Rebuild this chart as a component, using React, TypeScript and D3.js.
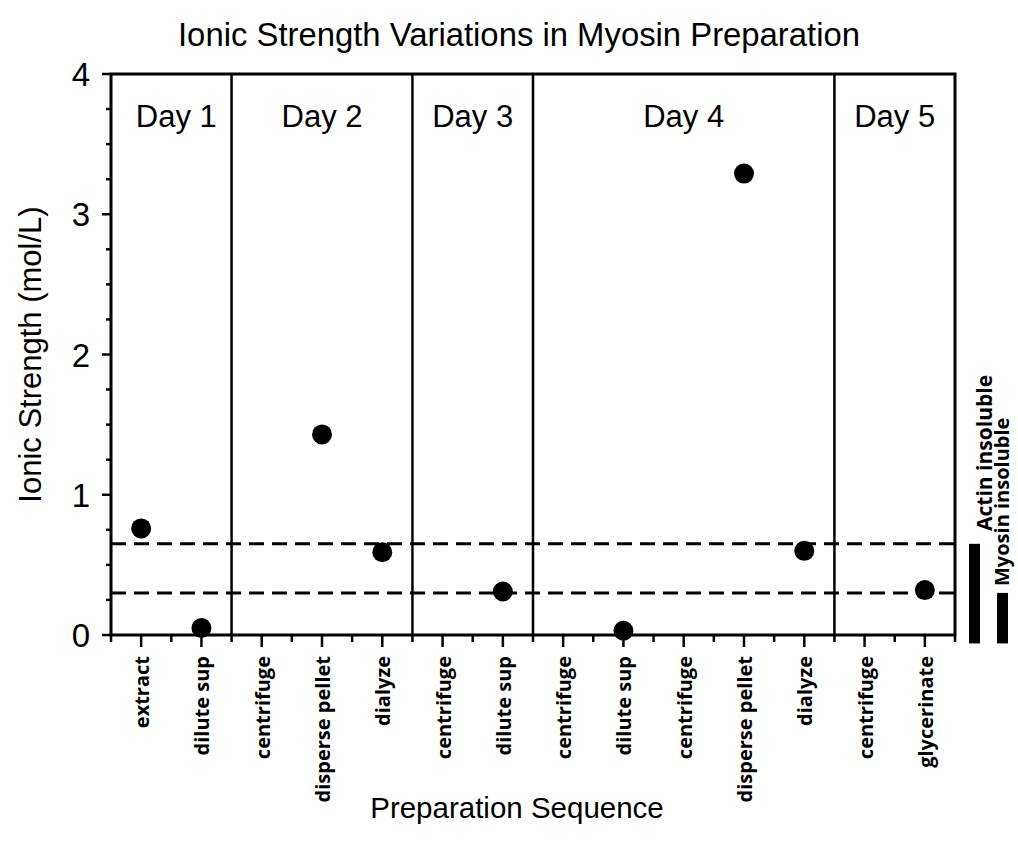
import React from "react";
import * as d3 from "d3";

// Preparation steps in order, grouped by day
const steps = [
  "extract", "dilute sup",
  "centrifuge", "disperse pellet", "dialyze",
  "centrifuge", "dilute sup",
  "centrifuge", "dilute sup", "centrifuge", "disperse pellet", "dialyze",
  "centrifuge", "glycerinate",
];
// Ionic strength (mol/L) measured after each step; null = not measured
const ionicStrength: (number | null)[] = [
  0.76, 0.05,
  null, 1.43, 0.59,
  null, 0.31,
  null, 0.03, null, 3.29, 0.6,
  null, 0.32,
];
const dayNames = ["Day 1", "Day 2", "Day 3", "Day 4", "Day 5"];
const stepsPerDay = [2, 3, 2, 5, 2];
const yTicks = [0, 1, 2, 3, 4];
// Solubility thresholds (mol/L)
const thresholds = [
  { name: "Actin insoluble", value: 0.65 },
  { name: "Myosin insoluble", value: 0.3 },
];

const W = 1018;
const H = 854;
const left = 111;
const right = 955;
const top = 74;
const bottom = 635;

export default function App() {
  const nUnits = steps.length * 2;
  const x = d3.scaleLinear().domain([0, nUnits]).range([left, right]);
  const y = d3.scaleLinear().domain([0, 4]).range([bottom, top]);

  const dayBounds: number[] = [];
  let acc = 0;
  stepsPerDay.forEach((n) => {
    dayBounds.push(acc);
    acc += n;
  });
  dayBounds.push(acc);

  const minorY = d3.range(0, 4.0001, 0.25);
  const xTickUnits = d3.range(0, nUnits + 1);

  const labelFont = "'Liberation Sans', Arial, Helvetica, sans-serif";
  const stepFont = "'Open Sans', 'DejaVu Sans', sans-serif";

  const barBottom = y(-0.06);
  const barX = [969, 997];
  const barLabelX = [992, 1009];
  const barLabelY = [531, 586];

  return (
    <svg
      width={W}
      height={H}
      style={{ position: "absolute", left: 0, top: 0, background: "#fff" }}
    >
      <text
        x={519}
        y={46}
        textAnchor="middle"
        fontFamily={labelFont}
        fontSize={32.5}
        textLength={682}
        lengthAdjust="spacingAndGlyphs"
      >
        Ionic Strength Variations in Myosin Preparation
      </text>

      {/* frame */}
      <rect
        x={left}
        y={top}
        width={right - left}
        height={bottom - top}
        fill="none"
        stroke="#000"
        strokeWidth={3}
      />

      {/* day dividers */}
      {dayBounds.slice(1, -1).map((b, i) => (
        <line
          key={"div" + i}
          x1={x(b * 2)}
          x2={x(b * 2)}
          y1={top}
          y2={bottom}
          stroke="#000"
          strokeWidth={2.5}
        />
      ))}

      {/* day labels */}
      {dayNames.map((d, i) => (
        <text
          key={d}
          x={(x(dayBounds[i] * 2) + x(dayBounds[i + 1] * 2)) / 2 + (i === 0 ? 5 : 0)}
          y={127}
          textAnchor="middle"
          fontFamily={labelFont}
          fontSize={31}
        >
          {d}
        </text>
      ))}

      {/* threshold lines */}
      {thresholds.map((t) => (
        <line
          key={t.name}
          x1={left}
          x2={right}
          y1={y(t.value)}
          y2={y(t.value)}
          stroke="#000"
          strokeWidth={3}
          strokeDasharray="15 8"
        />
      ))}

      {/* y axis ticks */}
      {minorY.map((v) => {
        const major = Math.abs(v - Math.round(v)) < 1e-6;
        return (
          <line
            key={"yt" + v}
            x1={left - (major ? 9 : 5)}
            x2={left}
            y1={y(v)}
            y2={y(v)}
            stroke="#000"
            strokeWidth={2.5}
          />
        );
      })}
      {yTicks.map((v) => (
        <text
          key={"yl" + v}
          x={90}
          y={y(v) + 12}
          textAnchor="end"
          fontFamily={labelFont}
          fontSize={33}
        >
          {v}
        </text>
      ))}

      {/* x axis ticks */}
      {xTickUnits.map((u) => {
        const major = u % 2 === 1;
        return (
          <line
            key={"xt" + u}
            x1={x(u)}
            x2={x(u)}
            y1={bottom}
            y2={bottom + (major ? 12 : 7)}
            stroke="#000"
            strokeWidth={2.5}
          />
        );
      })}
      {steps.map((s, i) => (
        <text
          key={"xl" + i}
          transform={`translate(${x(2 * i + 1) + 8},656) rotate(-90)`}
          textAnchor="end"
          fontFamily={stepFont}
          fontWeight={700}
          fontSize={20}
        >
          {s}
        </text>
      ))}

      {/* data points */}
      {ionicStrength.map((v, i) =>
        v === null ? null : (
          <circle key={"pt" + i} cx={x(2 * i + 1)} cy={y(v)} r={10} fill="#000" />
        )
      )}

      {/* solubility bars */}
      {thresholds.map((t, i) => (
        <g key={"bar" + t.name}>
          <rect
            x={barX[i]}
            y={y(t.value)}
            width={11}
            height={barBottom - y(t.value)}
            fill="#000"
          />
          <text
            transform={`translate(${barLabelX[i]},${barLabelY[i]}) rotate(-90)`}
            fontFamily={stepFont}
            fontWeight={700}
            fontSize={i === 0 ? 21 : 20}
          >
            {t.name}
          </text>
        </g>
      ))}

      {/* axis titles */}
      <text
        transform={`translate(41,${(top + bottom) / 2}) rotate(-90)`}
        textAnchor="middle"
        fontFamily={labelFont}
        fontSize={31}
      >
        Ionic Strength (mol/L)
      </text>
      <text
        x={517}
        y={818}
        textAnchor="middle"
        fontFamily={labelFont}
        fontSize={29.5}
      >
        Preparation Sequence
      </text>
    </svg>
  );
}
